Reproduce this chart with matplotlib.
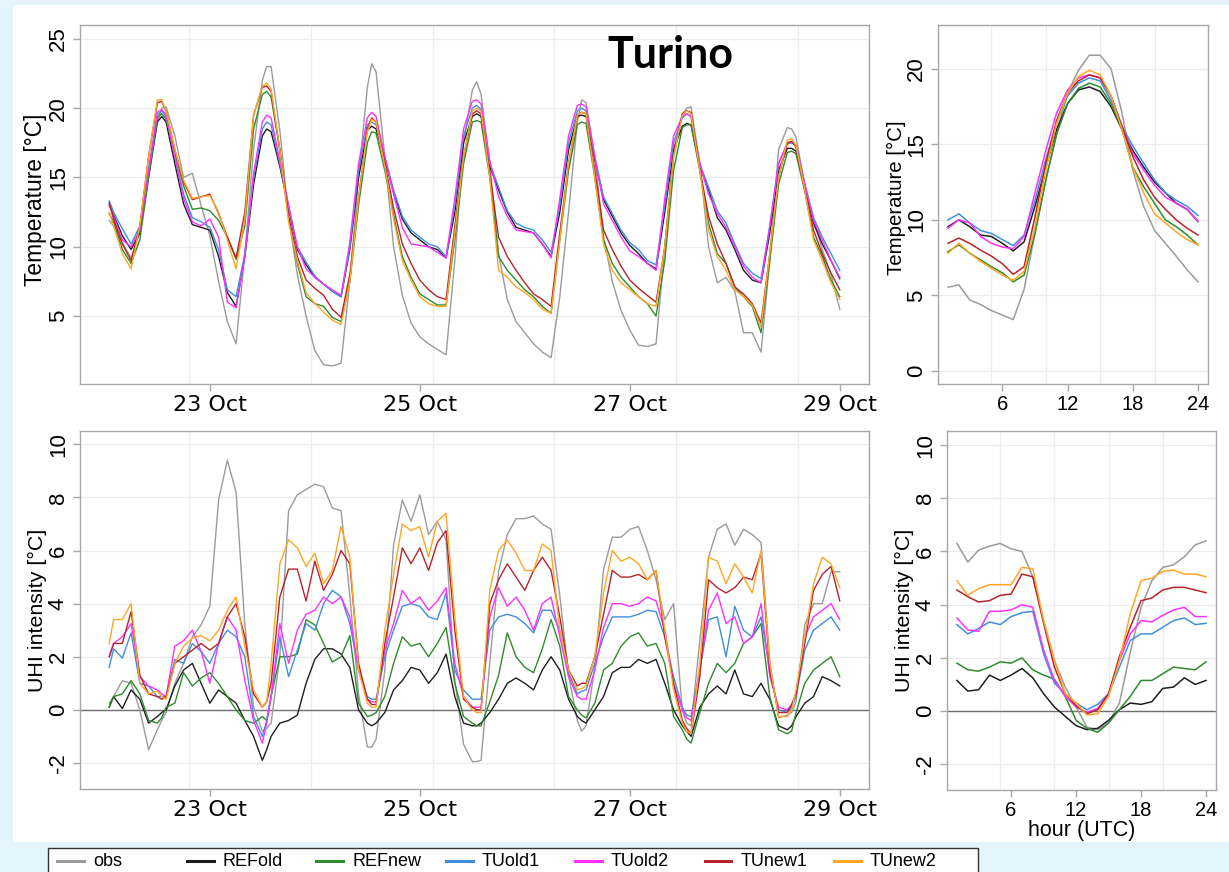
import numpy as np
import matplotlib
matplotlib.use("Agg")
import matplotlib.pyplot as plt
from matplotlib.patches import Rectangle
from matplotlib.lines import Line2D

# hours since 22 Oct 00 UTC
hours = [1, 2, 4, 6, 8, 10, 12, 13, 14, 16, 18, 20, 22,
         24, 26, 28, 30, 32, 34, 36, 37, 38, 40, 42, 44, 46,
         48, 50, 52, 54, 56, 58, 60, 61, 62, 64, 66, 68, 70,
         72, 74, 76, 78, 80, 82, 84, 85, 86, 88, 90, 92, 94,
         96, 98, 100, 102, 104, 106, 108, 109, 110, 112, 114, 116, 118,
         120, 122, 124, 126, 128, 130, 132, 133, 134, 136, 138, 140, 142,
         144, 146, 148, 150, 152, 154, 156, 157, 158, 160, 162, 164, 166,
         168]

# 2 m temperature (degC)
t_obs = [11.9, 11.5, 10.3, 9.2, 11.0, 15.5, 19.0, 20.0, 20.1, 18.0, 15.0, 15.3, 13.0,
         10.8, 7.5, 4.6, 3.0, 9.5, 17.0, 22.0, 23.0, 23.0, 18.4, 12.2, 8.0, 5.0,
         2.5, 1.5, 1.4, 1.6, 7.5, 15.0, 21.5, 23.2, 22.6, 16.5, 10.0, 6.5, 4.5,
         3.5, 3.0, 2.6, 2.2, 9.0, 17.5, 21.3, 21.9, 21.0, 16.0, 9.5, 6.2, 4.6,
         3.8, 3.0, 2.4, 2.0, 6.4, 12.5, 19.0, 20.6, 20.4, 16.5, 10.7, 7.5, 5.4,
         4.0, 2.9, 2.8, 3.0, 10.0, 17.0, 19.5, 20.0, 20.1, 16.0, 10.0, 7.4, 7.8,
         6.8, 3.8, 3.8, 2.4, 9.0, 17.0, 18.6, 18.5, 17.9, 14.5, 12.0, 9.8, 8.0,
         5.5]
t_refold = [13.0, 12.3, 10.8, 9.8, 11.0, 15.0, 19.0, 19.4, 19.0, 16.0, 13.1, 11.6, 11.4,
            11.2, 9.3, 6.7, 5.7, 9.3, 14.5, 18.0, 18.5, 18.3, 15.8, 12.8, 9.8, 8.7,
            7.8, 7.3, 6.8, 6.4, 9.8, 15.0, 18.4, 18.7, 18.5, 16.3, 13.9, 12.0, 11.0,
            10.5, 10.0, 9.8, 9.2, 12.5, 17.5, 19.4, 19.6, 19.4, 15.8, 14.1, 12.5, 11.4,
            11.2, 11.0, 10.2, 9.3, 12.5, 17.0, 19.4, 19.5, 19.4, 16.3, 13.4, 12.2, 11.0,
            10.1, 9.5, 8.8, 8.4, 12.5, 17.0, 18.7, 18.9, 18.8, 15.8, 14.1, 12.1, 11.2,
            9.8, 8.3, 7.6, 7.4, 11.0, 15.5, 17.1, 17.1, 16.9, 14.3, 11.7, 10.2, 9.0,
            7.7]
t_refnew = [12.4, 11.8, 9.8, 8.8, 10.5, 15.0, 19.3, 19.6, 19.2, 16.8, 14.4, 12.7, 12.8,
            12.6, 11.9, 10.7, 9.1, 11.5, 18.5, 21.0, 21.2, 20.8, 17.0, 12.0, 8.8, 6.4,
            5.9, 5.7, 4.9, 4.6, 7.5, 13.0, 17.5, 18.3, 18.2, 15.5, 12.3, 9.3, 7.8,
            6.6, 6.2, 5.8, 5.8, 10.5, 16.0, 19.0, 19.1, 19.0, 15.0, 9.3, 8.3, 7.6,
            6.9, 6.4, 5.7, 5.2, 10.5, 15.5, 18.8, 19.0, 18.9, 15.0, 10.5, 8.8, 7.8,
            7.1, 6.4, 5.9, 5.0, 9.0, 15.5, 18.6, 18.8, 18.8, 15.5, 11.7, 9.5, 8.8,
            7.1, 6.4, 5.7, 3.8, 9.0, 14.5, 16.8, 16.9, 16.7, 14.0, 10.7, 9.3, 7.6,
            6.4]
t_tuold1 = [13.3, 12.5, 11.3, 10.2, 11.5, 15.5, 19.5, 19.8, 19.4, 16.5, 13.8, 12.1, 11.8,
            11.4, 9.8, 6.9, 6.4, 9.5, 15.0, 18.5, 19.0, 18.8, 16.0, 12.9, 10.0, 8.9,
            7.9, 7.3, 6.8, 6.4, 10.0, 15.5, 18.8, 19.0, 18.8, 16.5, 14.1, 12.2, 11.2,
            10.7, 10.2, 10.0, 9.3, 13.0, 18.0, 20.0, 20.2, 19.9, 16.0, 14.3, 12.6, 11.7,
            11.4, 11.2, 10.5, 9.6, 13.0, 17.5, 19.8, 20.0, 19.8, 16.5, 13.6, 12.4, 11.2,
            10.3, 9.8, 9.0, 8.7, 13.0, 17.5, 19.3, 19.6, 19.4, 16.0, 14.3, 12.6, 11.7,
            10.2, 8.8, 8.1, 7.7, 11.5, 16.0, 17.4, 17.5, 17.3, 14.5, 12.1, 10.7, 9.5,
            8.3]
t_tuold2 = [13.0, 12.2, 10.5, 10.0, 11.2, 15.5, 19.7, 19.9, 19.5, 16.5, 13.5, 11.8, 11.5,
            12.0, 10.7, 6.0, 5.6, 9.3, 15.3, 19.0, 19.5, 19.3, 16.2, 13.0, 10.0, 8.4,
            7.8, 7.3, 6.9, 6.5, 10.3, 16.0, 19.3, 19.7, 19.4, 16.5, 13.8, 11.4, 10.2,
            10.1, 10.0, 9.6, 9.2, 13.5, 18.5, 20.5, 20.6, 20.3, 16.2, 13.6, 12.2, 11.2,
            11.1, 11.0, 10.2, 9.2, 13.5, 18.0, 20.2, 20.3, 20.1, 16.5, 13.1, 11.9, 10.7,
            9.7, 9.3, 8.8, 8.3, 13.5, 18.0, 19.4, 19.6, 19.4, 16.0, 13.8, 12.4, 11.4,
            10.0, 8.6, 7.8, 7.4, 11.5, 16.0, 17.5, 17.6, 17.3, 14.5, 11.9, 10.5, 9.0,
            7.8]
t_tunew1 = [13.2, 12.0, 10.2, 9.0, 11.5, 16.5, 20.4, 20.5, 19.8, 17.0, 14.7, 13.4, 13.6,
            13.8, 12.4, 10.7, 9.2, 12.5, 19.5, 21.5, 21.6, 21.2, 17.0, 12.2, 9.3, 7.6,
            7.0, 6.5, 5.5, 4.9, 8.0, 13.5, 18.5, 19.3, 19.0, 16.0, 12.8, 10.2, 8.8,
            7.6, 6.9, 6.4, 6.2, 11.5, 16.5, 19.6, 19.8, 19.6, 15.3, 10.7, 9.3, 8.3,
            7.4, 6.6, 6.2, 5.7, 11.0, 16.0, 19.5, 19.7, 19.6, 15.5, 11.2, 9.8, 8.6,
            7.6, 7.0, 6.5, 6.0, 10.0, 16.5, 19.6, 19.8, 19.7, 15.6, 12.2, 10.2, 8.8,
            7.1, 6.6, 5.9, 4.5, 9.5, 15.0, 17.5, 17.6, 17.2, 14.1, 11.2, 9.5, 8.1,
            6.9]
t_tunew2 = [12.5, 11.5, 9.5, 8.4, 11.5, 16.5, 20.6, 20.6, 19.8, 17.0, 14.8, 13.5, 13.6,
            13.7, 12.5, 10.5, 8.4, 12.0, 19.5, 21.6, 21.8, 21.4, 17.0, 11.8, 9.0, 6.7,
            5.9, 5.3, 4.7, 4.4, 7.5, 13.5, 18.3, 19.2, 19.0, 15.8, 12.0, 9.0, 7.6,
            6.4, 5.9, 5.7, 5.7, 11.0, 16.5, 19.8, 20.0, 19.8, 15.0, 8.3, 7.8, 7.1,
            6.7, 6.2, 5.5, 5.2, 10.5, 16.0, 19.5, 19.7, 19.6, 15.0, 10.2, 8.3, 7.4,
            6.9, 6.4, 5.9, 5.7, 10.0, 16.5, 19.5, 19.8, 19.6, 15.5, 11.2, 9.3, 8.3,
            6.9, 6.4, 5.8, 4.2, 9.5, 15.0, 17.7, 17.8, 17.3, 14.1, 10.5, 9.0, 7.4,
            6.2]

# urban heat island intensity (degC)
u_obs = [0.25, 0.5, 1.1, 1.0, 0.0, -1.5, -0.75, -0.4, -0.1, 1.0, 1.75, 2.75, 3.2,
         3.9, 7.9, 9.4, 8.2, 3.2, 0.1, -0.8, -0.7, -0.5, 2.0, 7.5, 8.1, 8.3,
         8.5, 8.4, 7.6, 7.5, 4.3, 0.6, -1.4, -1.4, -1.1, 1.5, 6.2, 7.9, 7.1,
         8.1, 6.6, 7.1, 6.4, 1.1, -1.3, -1.95, -1.95, -1.9, 1.8, 5.2, 6.6, 7.2,
         7.2, 7.3, 7.0, 6.8, 4.3, 1.3, -0.4, -0.8, -0.6, 1.6, 5.3, 6.5, 6.5,
         6.8, 6.9, 6.0, 4.9, 3.4, 4.0, 0.0, -0.5, -0.6, 2.6, 5.75, 6.8, 7.0,
         6.2, 6.8, 6.6, 6.3, 1.8, -0.3, -0.2, -0.1, 0.3, 3.2, 4.0, 4.0, 5.2,
         5.2]
u_refold = [0.1, 0.5, 0.05, 0.75, 0.4, -0.5, -0.25, -0.1, 0.0, 0.9, 1.5, 1.75, 1.0,
            0.25, 0.75, 0.5, 0.25, -0.4, -1.0, -1.9, -1.5, -1.0, -0.5, -0.4, -0.2, 1.0,
            1.9, 2.3, 2.3, 2.1, 1.6, 0.0, -0.5, -0.6, -0.5, -0.1, 0.75, 1.1, 1.6,
            1.5, 1.0, 1.4, 2.1, 0.5, -0.5, -0.6, -0.6, -0.5, -0.1, 0.4, 1.0, 1.2,
            1.0, 0.75, 1.5, 2.0, 1.5, 0.4, -0.25, -0.4, -0.5, 0.0, 0.5, 1.4, 1.6,
            1.6, 1.9, 1.75, 1.9, 1.0, 0.0, -0.6, -0.8, -1.0, 0.1, 0.6, 0.9, 0.6,
            1.5, 0.6, 0.5, 1.0, 0.4, -0.6, -0.75, -0.6, -0.25, 0.25, 0.5, 1.25, 1.1,
            0.9]
u_refnew = [0.1, 0.5, 0.6, 1.1, 0.6, -0.4, -0.5, -0.3, 0.1, 0.25, 1.4, 0.9, 1.2,
            1.4, 1.0, 0.5, 0.0, -0.4, -0.5, -0.25, -0.4, 0.5, 2.0, 2.0, 2.1, 3.4,
            3.2, 2.5, 1.8, 2.0, 2.8, 0.25, -0.25, -0.2, -0.1, 0.5, 1.75, 2.75, 2.4,
            2.5, 2.0, 2.5, 3.1, 1.0, -0.25, -0.5, -0.6, -0.6, 0.3, 1.3, 2.9, 2.0,
            1.6, 1.4, 2.3, 3.4, 2.4, 0.5, 0.0, -0.2, -0.3, 0.25, 1.5, 1.75, 2.4,
            2.75, 2.9, 2.4, 2.5, 1.75, -0.25, -0.75, -1.1, -1.25, -0.1, 1.0, 1.75, 1.4,
            1.75, 2.5, 2.75, 3.25, 0.5, -0.75, -0.9, -0.8, -0.1, 1.0, 1.5, 1.75, 2.0,
            1.25]
u_tuold1 = [1.6, 2.3, 1.95, 2.9, 1.0, 0.9, 0.5, 0.5, 0.5, 1.9, 1.75, 2.5, 2.2,
            1.75, 2.5, 3.0, 2.75, 2.0, -0.25, -1.0, -0.4, 0.5, 2.75, 1.25, 2.25, 3.25,
            3.0, 4.0, 4.5, 4.25, 3.25, 1.5, 0.5, 0.4, 0.4, 2.0, 3.0, 3.9, 4.0,
            3.9, 3.5, 3.4, 4.4, 1.5, 0.75, 0.4, 0.4, 0.4, 3.0, 3.5, 3.6, 3.5,
            3.25, 2.9, 3.75, 3.75, 3.0, 1.4, 0.6, 0.7, 0.75, 1.75, 2.75, 3.5, 3.5,
            3.5, 3.6, 3.75, 3.7, 2.75, 1.25, 0.1, -0.2, -0.25, 1.5, 3.4, 3.5, 2.0,
            3.9, 3.0, 2.75, 3.5, 1.5, 0.0, -0.1, 0.1, 0.5, 2.25, 3.0, 3.25, 3.5,
            3.0]
u_tuold2 = [2.0, 2.5, 2.75, 3.25, 1.25, 0.9, 0.75, 0.6, 0.5, 2.4, 2.6, 3.0, 2.2,
            1.0, 2.5, 3.5, 3.0, 1.1, -0.4, -1.25, -0.5, 0.5, 3.25, 1.75, 3.0, 3.6,
            3.75, 4.25, 4.0, 4.25, 3.5, 1.5, 0.4, 0.3, 0.3, 2.25, 3.25, 4.5, 4.0,
            4.25, 3.75, 4.1, 4.6, 1.75, 0.5, 0.1, 0.1, 0.1, 3.5, 4.6, 3.9, 4.25,
            3.75, 3.0, 4.0, 4.25, 2.75, 1.25, 0.5, 0.4, 0.4, 1.5, 3.1, 4.0, 4.0,
            3.9, 4.0, 4.25, 4.1, 3.0, 1.0, 0.0, -0.3, -0.4, 1.5, 3.75, 4.4, 3.25,
            3.5, 2.5, 2.75, 4.0, 1.25, 0.1, 0.0, 0.2, 0.6, 2.75, 3.5, 3.75, 4.0,
            3.4]
u_tunew1 = [2.0, 2.5, 2.5, 3.7, 1.3, 0.6, 0.5, 0.4, 0.5, 1.75, 2.0, 2.25, 2.5,
            2.25, 2.5, 3.5, 4.0, 2.75, 0.6, 0.1, 0.3, 1.0, 4.25, 5.3, 5.3, 4.1,
            5.6, 4.5, 5.1, 6.0, 5.5, 1.75, 0.4, 0.2, 0.2, 2.5, 4.25, 6.1, 5.5,
            6.1, 5.25, 6.3, 6.75, 3.0, 0.4, 0.1, 0.0, 0.0, 4.0, 4.9, 5.5, 5.0,
            4.5, 5.25, 5.75, 5.25, 3.5, 1.5, 0.9, 1.0, 1.0, 2.0, 3.6, 5.25, 5.0,
            5.0, 5.1, 4.9, 5.25, 2.75, 1.0, -0.4, -0.7, -0.9, 1.25, 4.9, 4.6, 4.4,
            4.6, 5.0, 4.9, 5.9, 1.5, -0.1, -0.1, 0.2, 0.6, 2.5, 4.5, 5.1, 5.4,
            4.1]
u_tunew2 = [2.5, 3.4, 3.4, 4.0, 1.0, 0.6, 0.7, 0.5, 0.4, 1.75, 2.4, 2.7, 2.8,
            2.6, 3.0, 3.75, 4.25, 2.4, 0.75, 0.1, 0.3, 1.75, 5.5, 6.4, 6.1, 5.4,
            5.9, 4.75, 5.25, 6.9, 5.75, 1.5, 0.25, 0.1, 0.1, 3.0, 5.1, 7.0, 6.75,
            6.9, 5.75, 7.1, 7.4, 3.5, 0.5, 0.0, -0.1, -0.1, 4.5, 6.0, 6.4, 5.9,
            5.25, 5.25, 6.25, 6.0, 3.0, 1.5, 0.75, 0.8, 0.9, 2.0, 4.4, 6.0, 5.6,
            5.75, 5.5, 4.9, 5.25, 3.0, 0.75, -0.5, -0.8, -0.9, 1.75, 5.75, 5.6, 4.75,
            5.5, 5.0, 4.4, 6.0, 1.75, -0.25, -0.25, 0.0, 0.75, 2.75, 4.75, 5.75, 5.5,
            4.6]

# mean diurnal cycle, hour (UTC) 1..24
d_hours = list(range(1, 25))
dt_obs = [5.55, 5.7, 4.7, 4.4, 4.0, 3.7, 3.4, 5.4, 9.1, 12.65, 15.7, 18.4,
          19.9, 20.9, 20.9, 20.0, 17.1, 13.3, 10.9, 9.3, 8.45, 7.6, 6.7, 5.9]
dt_refold = [9.55, 10.0, 9.55, 9.0, 8.9, 8.45, 7.95, 8.55, 10.9, 13.5, 16.0, 17.7,
             18.6, 18.8, 18.5, 17.5, 16.0, 14.6, 13.5, 12.5, 11.8, 11.1, 10.7, 9.9]
dt_refnew = [7.9, 8.35, 7.8, 7.35, 6.9, 6.5, 5.9, 6.35, 9.1, 12.65, 15.7, 17.7,
             18.7, 19.05, 18.8, 17.7, 16.0, 13.5, 12.2, 11.1, 10.0, 9.55, 9.0, 8.35]
dt_tuold1 = [10.0, 10.4, 9.8, 9.3, 9.1, 8.7, 8.3, 9.0, 11.3, 14.0, 16.4, 18.2,
             19.05, 19.4, 19.2, 17.9, 16.2, 14.9, 13.75, 12.65, 11.8, 11.3, 10.9, 10.3]
dt_tuold2 = [9.45, 10.0, 9.8, 8.9, 8.45, 8.2, 8.1, 8.9, 11.8, 14.6, 17.1, 18.6,
             19.4, 19.6, 19.4, 18.2, 16.2, 14.4, 13.3, 12.3, 11.5, 11.1, 10.7, 9.9]
dt_tunew1 = [8.45, 8.8, 8.45, 8.0, 7.6, 7.1, 6.4, 6.9, 10.2, 13.75, 16.6, 18.4,
             19.2, 19.6, 19.4, 18.2, 16.2, 14.2, 12.65, 11.5, 10.7, 10.0, 9.45, 9.0]
dt_tunew2 = [7.8, 8.45, 7.8, 7.25, 6.8, 6.35, 6.0, 6.6, 9.55, 13.3, 16.4, 18.4,
             19.5, 19.9, 19.6, 18.2, 16.0, 13.5, 11.8, 10.4, 9.8, 9.2, 8.7, 8.35]

du_obs = [6.3, 5.6, 6.05, 6.2, 6.3, 6.1, 6.0, 5.05, 3.4, 1.9, 0.9, 0.15,
          -0.6, -0.7, -0.45, 0.3, 2.2, 3.9, 4.9, 5.4, 5.5, 5.8, 6.25, 6.4]
du_refold = [1.15, 0.75, 0.8, 1.35, 1.15, 1.35, 1.6, 1.25, 0.65, 0.15, -0.2, -0.55,
             -0.7, -0.65, -0.35, 0.05, 0.3, 0.25, 0.35, 0.85, 0.9, 1.25, 1.0, 1.15]
du_refnew = [1.8, 1.55, 1.5, 1.65, 1.85, 1.8, 2.0, 1.55, 1.35, 1.2, 0.55, -0.35,
             -0.65, -0.8, -0.45, 0.05, 0.55, 1.15, 1.15, 1.4, 1.65, 1.6, 1.55, 1.85]
du_tuold1 = [3.25, 2.9, 3.1, 3.35, 3.25, 3.55, 3.7, 3.75, 2.15, 1.05, 0.65, 0.3,
             0.05, 0.25, 0.65, 1.65, 2.65, 2.9, 2.9, 3.15, 3.4, 3.5, 3.25, 3.3]
du_tuold2 = [3.5, 3.05, 3.0, 3.75, 3.75, 3.8, 4.0, 3.9, 2.3, 1.15, 0.55, 0.15,
             -0.05, 0.1, 0.65, 1.9, 2.9, 3.4, 3.35, 3.6, 3.8, 3.9, 3.55, 3.55]
du_tunew1 = [4.55, 4.3, 4.1, 4.15, 4.35, 4.4, 5.15, 5.05, 3.3, 1.65, 0.65, 0.2,
             -0.1, 0.05, 0.65, 2.05, 3.15, 4.15, 4.25, 4.55, 4.65, 4.65, 4.55, 4.45]
du_tunew2 = [4.9, 4.35, 4.6, 4.75, 4.75, 4.75, 5.4, 5.35, 3.4, 1.9, 0.65, 0.3,
             -0.15, -0.1, 0.55, 1.9, 3.65, 4.9, 5.0, 5.25, 5.3, 5.15, 5.15, 5.05]

names = ["obs", "REFold", "REFnew", "TUold1", "TUold2", "TUnew1", "TUnew2"]
colors = ["#9b9b9b", "#1e1e1e", "#2e8b2e", "#3f8fdc", "#ff30ff", "#b8232b", "#ffa626"]

day_ticks = [24, 72, 120, 168]
day_labels = ["23 Oct", "25 Oct", "27 Oct", "29 Oct"]
hour_ticks = [6, 12, 18, 24]

W, H = 1229, 872
BG = "#e4f4fc"
SPINE = "#a8a8a8"
GRID = "#ececec"


def box(x0, y0, x1, y1):
    return [x0 / W, 1 - y1 / H, (x1 - x0) / W, (y1 - y0) / H]


def style(ax, yticks, xticks, xlabels, xfont, xsize, ysize):
    for s in ax.spines.values():
        s.set_color(SPINE)
        s.set_linewidth(1.0)
    ax.set_yticks(yticks)
    ax.set_yticklabels([str(v) for v in yticks], rotation=90, va="center",
                       fontsize=ysize, family="Liberation Sans")
    ax.set_xticks(xticks)
    ax.set_xticklabels(xlabels, fontsize=xsize, family=xfont)
    ax.tick_params(direction="out", length=5, width=1, color=SPINE, pad=3)
    ax.tick_params(axis="x", pad=3)
    for y in yticks:
        ax.axhline(y, color=GRID, lw=0.9, zorder=0)


fig = plt.figure(figsize=(W / 100, H / 100), dpi=100, facecolor=BG)
fig.patches.append(Rectangle((13 / W, 1 - 842 / H), 1 - 13 / W, 837 / H,
                             transform=fig.transFigure, facecolor="white",
                             edgecolor="none", zorder=-10))

ax1 = fig.add_axes(box(80, 25, 869, 384))
ax2 = fig.add_axes(box(938, 25, 1208, 384))
ax3 = fig.add_axes(box(80, 431, 869, 789))
ax4 = fig.add_axes(box(947, 431, 1216, 790))

temps = [t_obs, t_refold, t_refnew, t_tuold1, t_tuold2, t_tunew1, t_tunew2]
uhis = [u_obs, u_refold, u_refnew, u_tuold1, u_tuold2, u_tunew1, u_tunew2]
dtemps = [dt_obs, dt_refold, dt_refnew, dt_tuold1, dt_tuold2, dt_tunew1, dt_tunew2]
duhis = [du_obs, du_refold, du_refnew, du_tuold1, du_tuold2, du_tunew1, du_tunew2]

for vals, c in zip(temps, colors):
    ax1.plot(hours, vals, color=c, lw=1.0, zorder=3)
for vals, c in zip(uhis, colors):
    ax3.plot(hours, vals, color=c, lw=1.0, zorder=3)
for vals, c in zip(dtemps, colors):
    ax2.plot(d_hours, vals, color=c, lw=1.1, zorder=3)
for vals, c in zip(duhis, colors):
    ax4.plot(d_hours, vals, color=c, lw=1.1, zorder=3)

for ax in (ax1, ax3):
    ax.set_xlim(1 - 0.04 * 167, 168 + 0.04 * 167)
    for g in [19.2, 47.1, 75.0, 102.6, 130.5, 158.4]:
        ax.axvline(g, color=GRID, lw=0.9, zorder=0)
for ax in (ax2, ax4):
    ax.set_xlim(1 - 0.04 * 23, 24 + 0.04 * 23)
    for g in [5, 10, 15, 20]:
        ax.axvline(g, color=GRID, lw=0.9, zorder=0)

ax1.set_ylim(0.1, 26.0)
ax2.set_ylim(-0.86, 22.9)
ax3.set_ylim(-2.98, 10.5)
ax4.set_ylim(-2.97, 10.53)

style(ax1, [5, 10, 15, 20, 25], day_ticks, day_labels, "DejaVu Sans", 16, 16)
style(ax2, [0, 5, 10, 15, 20], hour_ticks, [str(h) for h in hour_ticks], "Liberation Sans", 14.5, 16)
style(ax3, [-2, 0, 2, 4, 6, 8, 10], day_ticks, day_labels, "DejaVu Sans", 16, 16)
style(ax4, [-2, 0, 2, 4, 6, 8, 10], hour_ticks, [str(h) for h in hour_ticks], "Liberation Sans", 14.5, 16)

for ax in (ax3, ax4):
    ax.axhline(0, color="#707070", lw=1.0, zorder=2)

fig.text(36 / W, 1 - 200 / H, "Temperature [°C]", rotation=90, ha="center", va="center",
         fontsize=16.4, family="Liberation Sans")
fig.text(896 / W, 1 - 198 / H, "Temperature [°C]", rotation=90, ha="center", va="center",
         fontsize=14.7, family="Liberation Sans")
fig.text(37 / W, 1 - 610 / H, "UHI intensity [°C]", rotation=90, ha="center", va="center",
         fontsize=15.4, family="Liberation Sans")
fig.text(904 / W, 1 - 610 / H, "UHI intensity [°C]", rotation=90, ha="center", va="center",
         fontsize=15.4, family="Liberation Sans")
fig.text(1082 / W, 1 - 830 / H, "hour (UTC)", ha="center", va="center",
         fontsize=15.5, family="Liberation Sans")

fig.text(670 / W, 1 - 68 / H, "Turino", ha="center", va="baseline",
         fontsize=31, fontweight="bold", family="Lato")

# legend strip along the bottom edge (equal-width entries, as in R)
fig.patches.append(Rectangle((48 / W, -0.01), 930 / W, 1 - 848 / H + 0.01,
                             transform=fig.transFigure, facecolor="white",
                             edgecolor="#333333", lw=1.0, zorder=5))
for i, (c, name) in enumerate(zip(colors, names)):
    x0 = 57 + 129.5 * i
    fig.lines.append(Line2D([x0 / W, (x0 + 27) / W], [1 - 861 / H, 1 - 861 / H],
                            transform=fig.transFigure, color=c, lw=2.2, zorder=6))
    fig.text((x0 + 36) / W, 1 - 861 / H, name, ha="left", va="center",
             fontsize=13, family="Liberation Sans", zorder=7)

fig.savefig("out.png", dpi=100, facecolor=BG)
